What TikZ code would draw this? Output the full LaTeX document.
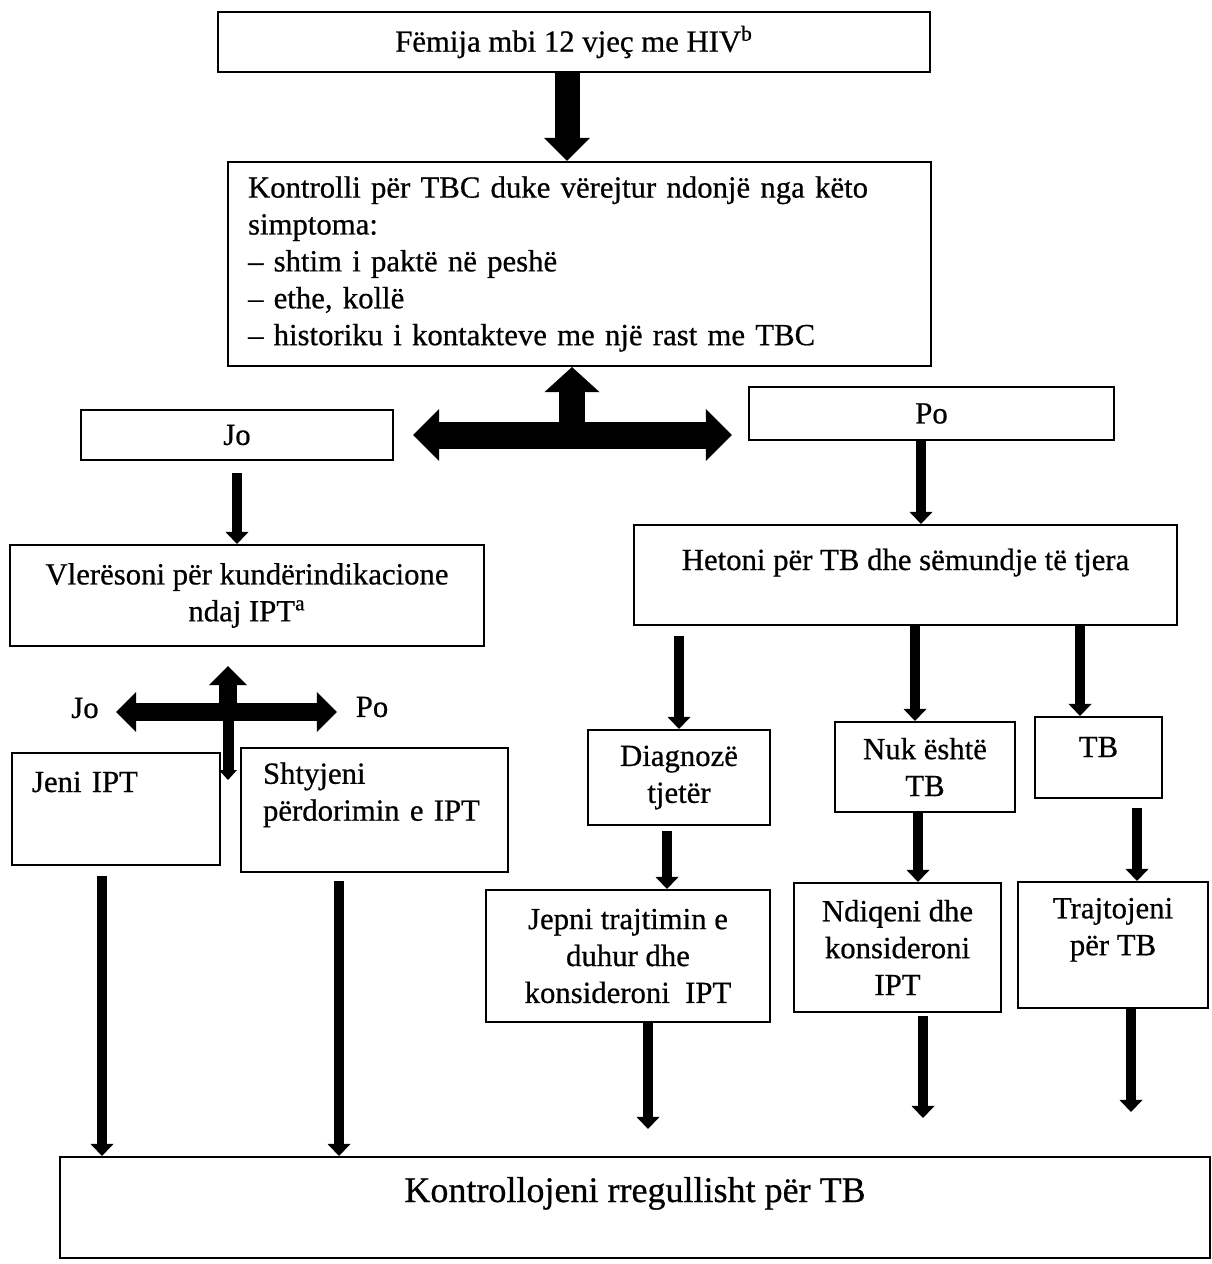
\documentclass[tikz,border=0pt]{standalone}
\usepackage{fontspec}
\setmainfont{Liberation Serif}[FakeBold=0.6]
\usepackage{tikz}
\usetikzlibrary{arrows.meta}
\tikzset{
  box/.style={draw=black, line width=1.2pt, align=center, fill=white, inner sep=0.2cm},
  boxl/.style={box, align=left},
  lbl/.style={inner sep=0pt},
  fatarr/.style={line width=0.5cm, -{Triangle[length=0.46cm,width=0.92cm,line width=0pt]}},
  bigarr/.style={line width=0.52cm, -{Triangle[length=0.5cm,width=1.1cm,line width=0pt]}},
  bigdbl/.style={line width=0.54cm, {Triangle[length=0.52cm,width=1.04cm,line width=0pt]}-{Triangle[length=0.52cm,width=1.04cm,line width=0pt]}},
  midarr/.style={line width=0.36cm, -{Triangle[length=0.38cm,width=0.76cm,line width=0pt]}},
  middbl/.style={line width=0.36cm, {Triangle[length=0.4cm,width=0.8cm,line width=0pt]}-{Triangle[length=0.4cm,width=0.8cm,line width=0pt]}},
  tinyarr/.style={line width=0.22cm, -{Triangle[length=0.2cm,width=0.36cm,line width=0pt]}},
  arr/.style={line width=0.19cm, -{Triangle[length=0.24cm,width=0.46cm,line width=0pt]}}
}
\begin{document}
\begin{tikzpicture}[x=0.02cm, y=-0.02cm, font=\fontsize{17.5pt}{21pt}\selectfont]
  \useasboundingbox (0,0) rectangle (1212,1264);
  \node[box, minimum width=14.24cm, minimum height=1.2cm] (femija) at (574,42) {Fëmija mbi 12 vjeç me HIV\textsuperscript{b}};
  \node[boxl, text width=13.26cm, inner xsep=0.4cm, minimum height=4.08cm] (kontrolli) at (579.5,264)
    {Kontrolli për TBC duke vërejtur ndonjë nga këto\\simptoma:\\– shtim i paktë në peshë\\– ethe, kollë\\– historiku i kontakteve me një rast me TBC};
  \node[box, minimum width=6.24cm, minimum height=1cm] (jo) at (237,435) {Jo};
  \node[box, minimum width=7.3cm, minimum height=1.06cm] (po) at (931.5,413.5) {Po};
  \node[box, minimum width=9.48cm, minimum height=2.02cm] (vleresoni) at (247,595.5) {Vlerësoni për kundërindikacione\\ndaj IPT\textsuperscript{a}};
  \node[box, minimum width=10.86cm, inner ysep=0pt, text height=0.9cm, text depth=1.1cm] (hetoni) at (905.5,575) {Hetoni për TB dhe sëmundje të tjera};
  \node[boxl, text width=3.36cm, inner xsep=0.4cm, inner ysep=0pt, text height=0.78cm, text depth=1.46cm] (jeni) at (116,809) {Jeni IPT};
  \node[boxl, text width=4.46cm, inner xsep=0.44cm, minimum height=2.48cm] (shtyjeni) at (374.5,810) {Shtyjeni\\përdorimin e IPT\\\mbox{}};
  \node[box, minimum width=3.64cm, minimum height=1.9cm] (diagnoze) at (679,777.5) {Diagnozë\\tjetër};
  \node[box, minimum width=3.6cm, minimum height=1.8cm] (nuk) at (925,767) {Nuk është\\TB};
  \node[box, minimum width=2.54cm, inner ysep=0pt, text height=0.8cm, text depth=0.82cm] (tbbox) at (1098.5,757.5) {TB};
  \node[box, minimum width=5.68cm, minimum height=2.64cm] (jepni) at (628,956) {Jepni trajtimin e\\duhur dhe\\konsideroni\ \ IPT};
  \node[box, minimum width=4.14cm, minimum height=2.58cm] (ndiqeni) at (897.5,947.5) {Ndiqeni dhe\\konsideroni\\IPT};
  \node[box, minimum width=3.8cm, minimum height=2.52cm] (trajtojeni) at (1113,945) {Trajtojeni\\për TB\\\mbox{}};
  \node[box, minimum width=23cm, inner ysep=0pt, text height=0.9cm, text depth=1.12cm, font=\fontsize{20.5pt}{24pt}\selectfont] (bottom) at (635,1207.5) {Kontrollojeni rregullisht për TB};
  \node[lbl] (lbljo) at (85,708) {Jo};
  \node[lbl] (lblpo) at (372,707) {Po};
  \coordinate (hub1) at (572,435);
  \coordinate (hub2) at (228,712);
  \coordinate (cdown) at (228,780);

  \draw[fatarr] ([xshift=-0.14cm]femija.south) -- ([xshift=-0.14cm]femija.south |- kontrolli.north);
  \draw[bigarr] (hub1) -- (hub1 |- kontrolli.south);
  \draw[bigdbl, shorten <=0.38cm, shorten >=0.32cm] (jo.east |- hub1) -- (po.west |- hub1);
  \draw[arr, shorten <=0.24cm] (jo.south) -- (jo.south |- vleresoni.north);
  \draw[arr] ([xshift=-0.21cm]po.south) -- ([xshift=-0.21cm]po.south |- hetoni.north);
  \draw[midarr, shorten >=0.38cm] (hub2) -- (hub2 |- vleresoni.south);
  \draw[middbl, shorten <=0.34cm, shorten >=0.37cm] (lbljo.east |- hub2) -- (lblpo.west |- hub2);
  \draw[tinyarr] (hub2) -- (cdown);
  \draw[arr, shorten <=0.2cm] (diagnoze.north |- hetoni.south) -- (diagnoze.north);
  \draw[arr] ([xshift=-0.2cm]nuk.north |- hetoni.south) -- ([xshift=-0.2cm]nuk.north);
  \draw[arr] ([xshift=-0.37cm]tbbox.north |- hetoni.south) -- ([xshift=-0.37cm]tbbox.north);
  \draw[arr, shorten <=0.1cm] ([xshift=-0.24cm]diagnoze.south) -- ([xshift=-0.24cm]diagnoze.south |- jepni.north);
  \draw[arr] ([xshift=-0.14cm]nuk.south) -- ([xshift=-0.14cm]nuk.south |- ndiqeni.north);
  \draw[arr, shorten <=0.18cm] ([xshift=0.77cm]tbbox.south) -- ([xshift=0.77cm]tbbox.south |- trajtojeni.north);
  \draw[arr, shorten >=0.54cm] ([xshift=0.4cm]jepni.south) -- ([xshift=0.4cm]jepni.south |- bottom.north);
  \draw[arr, shorten <=0.06cm, shorten >=0.76cm] ([xshift=0.51cm]ndiqeni.south) -- ([xshift=0.51cm]ndiqeni.south |- bottom.north);
  \draw[arr, shorten >=0.88cm] ([xshift=0.36cm]trajtojeni.south) -- ([xshift=0.36cm]trajtojeni.south |- bottom.north);
  \draw[arr, shorten <=0.2cm] ([xshift=-0.28cm]jeni.south) -- ([xshift=-0.28cm]jeni.south |- bottom.north);
  \draw[arr, shorten <=0.16cm] ([xshift=-0.71cm]shtyjeni.south) -- ([xshift=-0.71cm]shtyjeni.south |- bottom.north);
\end{tikzpicture}
\end{document}
